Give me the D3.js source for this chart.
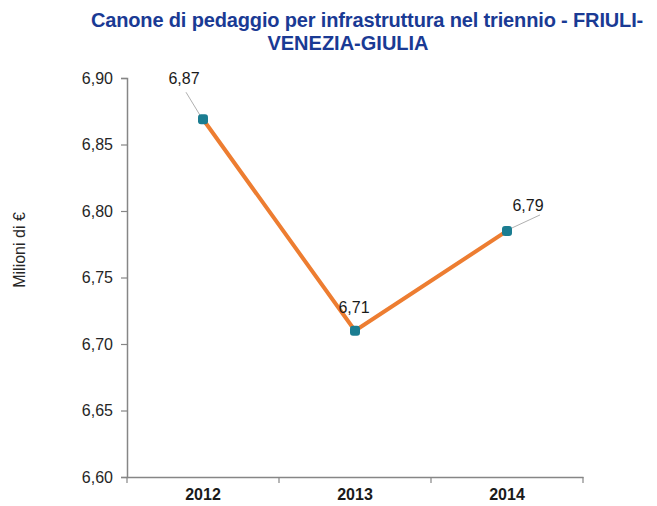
<!DOCTYPE html>
<html>
<head>
<meta charset="utf-8">
<script src="https://cdn.jsdelivr.net/npm/d3@7"></script>
<style>
  body { margin: 0; background: #fff; }
  svg { display: block; font-family: Arial, "Liberation Sans", sans-serif; }
</style>
</head>
<body>
<svg id="chart"></svg>
<script>
// chart data
var years = ['2012', '2013', '2014'];
var values = [6.869, 6.710, 6.785];
var valueLabels = ['6,87', '6,71', '6,79'];
var yTicks = [6.60, 6.65, 6.70, 6.75, 6.80, 6.85, 6.90];
var titleLines = ['Canone di pedaggio per infrastruttura nel triennio - FRIULI-', 'VENEZIA-GIULIA'];

var width = 657,
    height = 506,
    margin = {top: 78, right: 74, bottom: 29, left: 127};

var svg = d3.select('#chart')
    .attr('width', width)
    .attr('height', height);

var x = d3.scaleBand()
    .domain(years)
    .range([margin.left, width - margin.right]);

var y = d3.scaleLinear()
    .domain([6.60, 6.90])
    .range([height - margin.bottom, margin.top]);

var fmt = function (d) { return d3.format('.2f')(d).replace('.', ','); };

// title
svg.append('text')
    .attr('fill', '#1a3a94')
    .style('font-size', '20px')
    .style('font-weight', 'bold')
    .attr('text-anchor', 'middle')
    .selectAll('tspan')
    .data(titleLines)
    .enter().append('tspan')
    .attr('x', function (d, i) { return i === 0 ? 367 : 348; })
    .attr('y', function (d, i) { return 27 + i * 23; })
    .attr('letter-spacing', function (d, i) { return i === 0 ? '-0.15px' : '0px'; })
    .text(function (d) { return d; });

// y axis
var yAxis = svg.append('g')
    .attr('transform', 'translate(' + margin.left + ',0)')
    .call(d3.axisLeft(y).tickValues(yTicks).tickFormat(fmt).tickSize(6).tickPadding(8));

// x axis
var xAxis = svg.append('g')
    .attr('transform', 'translate(0,' + (height - margin.bottom) + ')')
    .call(d3.axisBottom(x).tickSize(0).tickPadding(12));

// category separators on x axis
xAxis.selectAll('line.sep')
    .data(years.concat(['end']))
    .enter().append('line')
    .attr('class', 'sep')
    .attr('x1', function (d, i) { return margin.left + i * x.bandwidth(); })
    .attr('x2', function (d, i) { return margin.left + i * x.bandwidth(); })
    .attr('y1', 0)
    .attr('y2', 6);

[yAxis, xAxis].forEach(function (g) {
    g.selectAll('path.domain').attr('stroke', '#868686').attr('stroke-width', 1.5);
    g.selectAll('line').attr('stroke', '#868686').attr('stroke-width', 1.2);
});

yAxis.selectAll('text')
    .attr('fill', '#262626')
    .style('font-size', '16px');

xAxis.selectAll('text')
    .attr('fill', '#1a1a1a')
    .style('font-size', '16px')
    .style('font-weight', 'bold');

// y axis title
svg.append('text')
    .attr('transform', 'translate(25,250) rotate(-90)')
    .attr('text-anchor', 'middle')
    .attr('fill', '#262626')
    .style('font-size', '16px')
    .text('Milioni di €');

var cx = function (i) { return x(years[i]) + x.bandwidth() / 2; };

// line
svg.append('path')
    .datum(values)
    .attr('fill', 'none')
    .attr('stroke', '#ed7d31')
    .attr('stroke-width', 4)
    .attr('d', d3.line()
        .x(function (d, i) { return cx(i); })
        .y(function (d) { return y(d); }));

// leader lines
var leaders = [[-17, -27, -3, -4], null, [5, -3, 33, -16]];
svg.selectAll('line.leader')
    .data(values)
    .enter().filter(function (d, i) { return leaders[i]; })
    .append('line')
    .attr('class', 'leader')
    .attr('stroke', '#b0b0b0')
    .attr('stroke-width', 1)
    .attr('x1', function (d, i) { var idx = values.indexOf(d); return cx(idx) + leaders[idx][0]; })
    .attr('y1', function (d) { var idx = values.indexOf(d); return y(d) + leaders[idx][1]; })
    .attr('x2', function (d) { var idx = values.indexOf(d); return cx(idx) + leaders[idx][2]; })
    .attr('y2', function (d) { var idx = values.indexOf(d); return y(d) + leaders[idx][3]; });

// markers
svg.selectAll('rect.marker')
    .data(values)
    .enter().append('rect')
    .attr('class', 'marker')
    .attr('x', function (d, i) { return cx(i) - 5; })
    .attr('y', function (d) { return y(d) - 5; })
    .attr('width', 10)
    .attr('height', 10)
    .attr('rx', 3)
    .attr('fill', '#1b7d91');

// value labels
var labelOffsets = [[-19, -35], [-1, -18], [21, -20]];
svg.selectAll('text.value')
    .data(values)
    .enter().append('text')
    .attr('class', 'value')
    .attr('x', function (d, i) { return cx(i) + labelOffsets[i][0]; })
    .attr('y', function (d, i) { return y(d) + labelOffsets[i][1]; })
    .attr('text-anchor', 'middle')
    .attr('fill', '#1a1a1a')
    .style('font-size', '16px')
    .text(function (d, i) { return valueLabels[i]; });
</script>
</body>
</html>
